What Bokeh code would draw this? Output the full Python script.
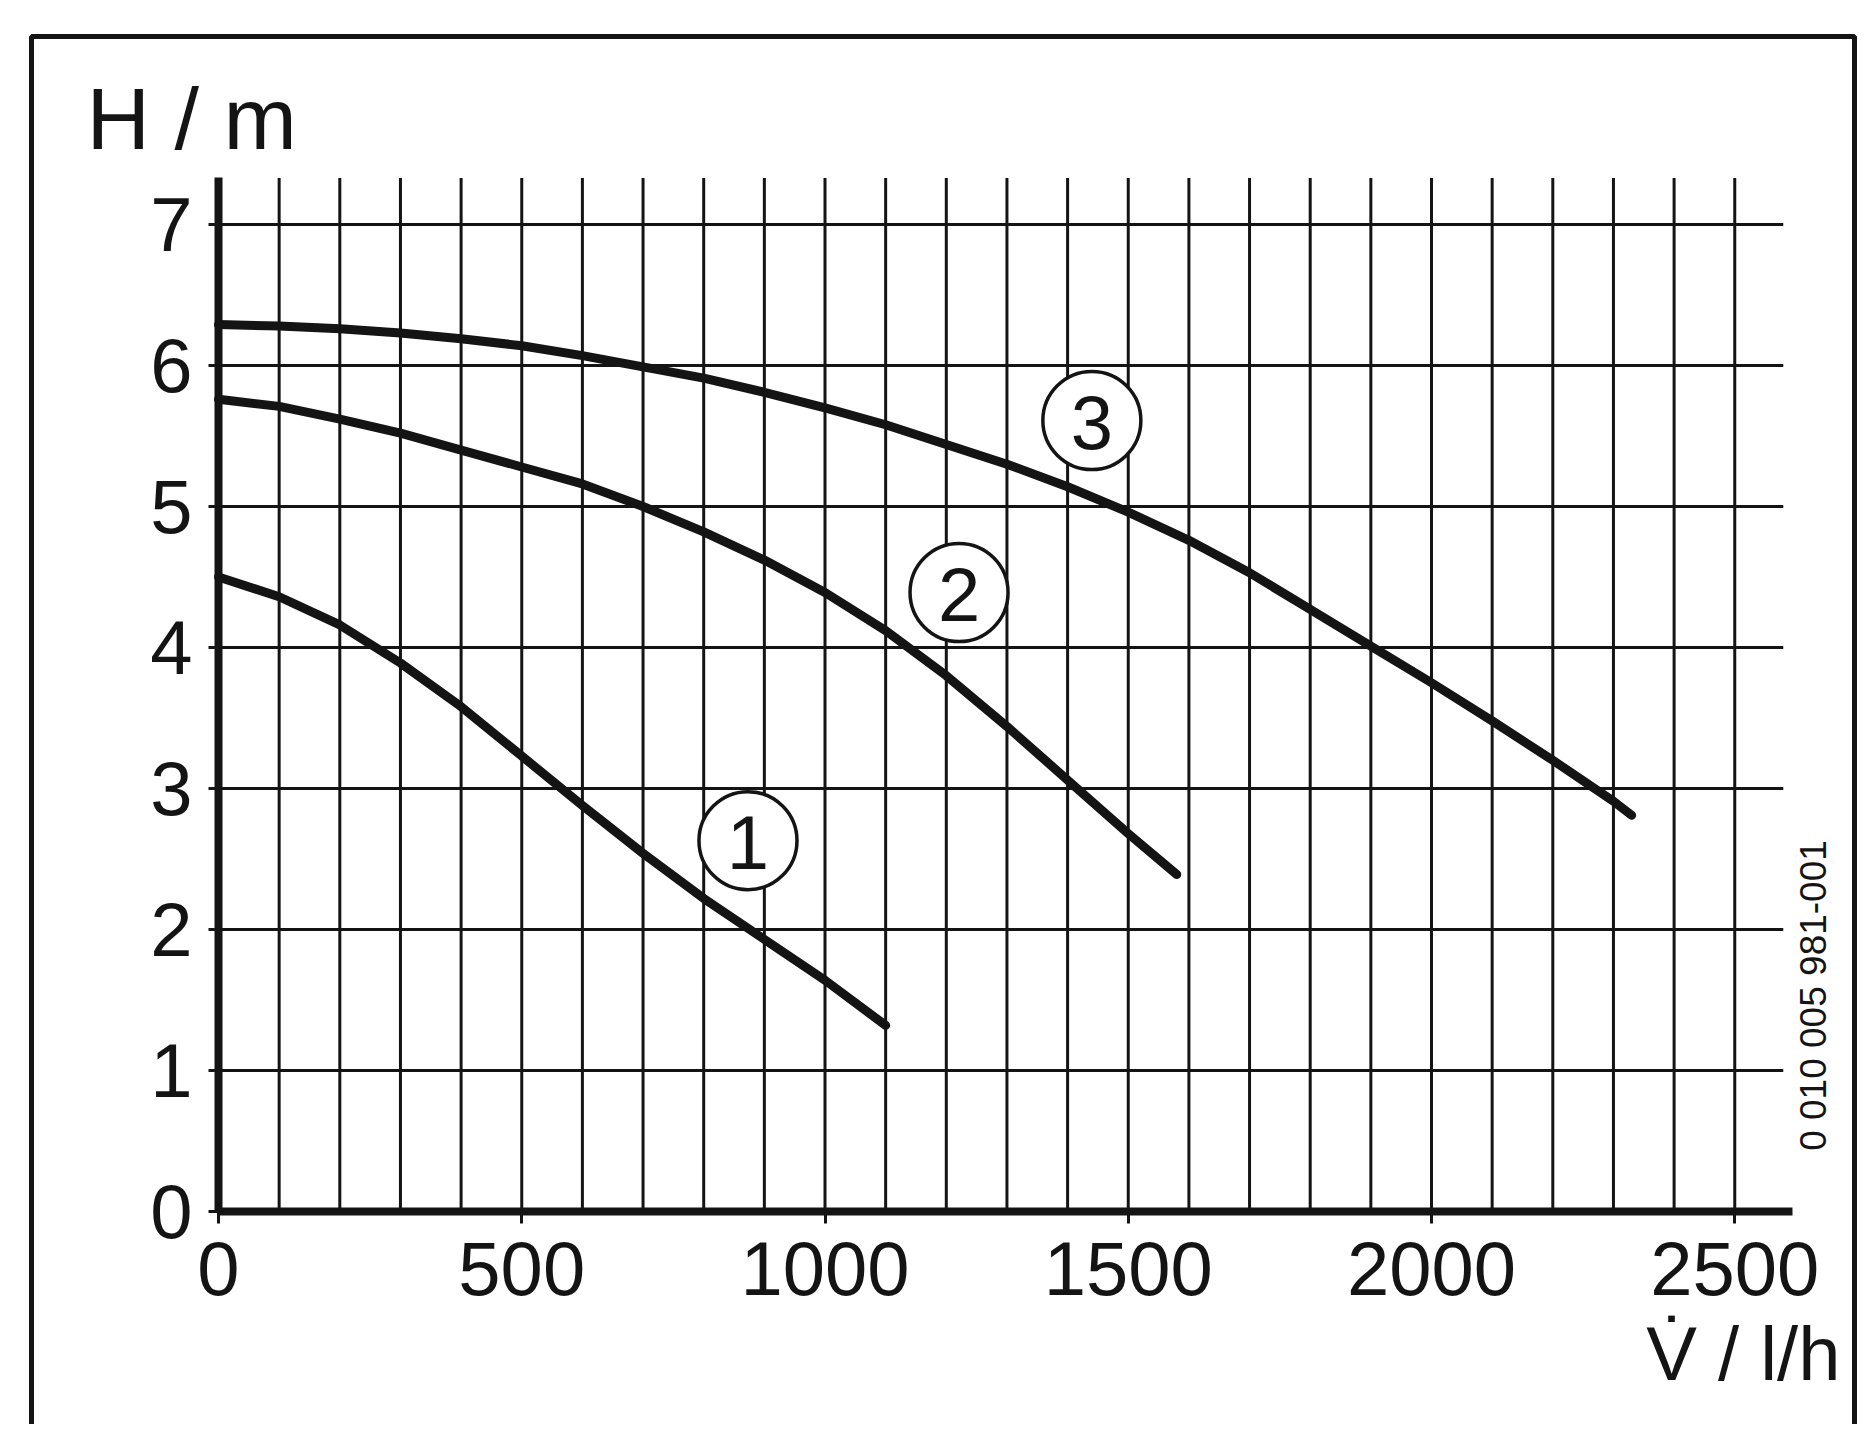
import numpy as np
from bokeh.plotting import figure
from bokeh.models import Range1d, FixedTicker, Label, BoxAnnotation
from bokeh.core.properties import value
from bokeh.embed import file_html
from bokeh.resources import INLINE

# ---------------- data ----------------
q1 = [0, 100, 200, 300, 400, 500, 600, 700, 800, 900, 1000, 1100]
h1 = [4.50, 4.36, 4.16, 3.89, 3.58, 3.23, 2.88, 2.54, 2.22, 1.93, 1.64, 1.32]

q2 = [0, 100, 200, 300, 400, 500, 600, 700, 800, 900, 1000, 1100, 1200, 1300, 1400, 1500, 1580]
h2 = [5.76, 5.71, 5.62, 5.52, 5.40, 5.28, 5.16, 5.00, 4.82, 4.62, 4.39, 4.12, 3.80, 3.44, 3.06, 2.68, 2.39]

q3 = [0, 100, 200, 300, 400, 500, 600, 700, 800, 900, 1000, 1100, 1200, 1300, 1400, 1500,
      1600, 1700, 1800, 1900, 2000, 2100, 2200, 2300, 2330]
h3 = [6.29, 6.28, 6.26, 6.23, 6.19, 6.14, 6.07, 5.99, 5.91, 5.81, 5.70, 5.58, 5.44, 5.30, 5.14, 4.96,
      4.76, 4.53, 4.27, 4.01, 3.75, 3.48, 3.20, 2.91, 2.81]

curve_ids = ["1", "2", "3"]
curve_label_q = [873, 1221, 1440]
curve_label_h = [2.63, 4.39, 5.61]

x_ticks = [0, 500, 1000, 1500, 2000, 2500]
y_ticks = [0, 1, 2, 3, 4, 5, 6, 7]
x_grid = [100, 200, 300, 400, 500, 600, 700, 800, 900, 1000, 1100, 1200, 1300,
          1400, 1500, 1600, 1700, 1800, 1900, 2000, 2100, 2200, 2300, 2400, 2500]
y_grid = [1, 2, 3, 4, 5, 6, 7]

y_label = "H / m"
x_label = "V\u0307 / l/h"
code_text = "0 010 005 981-001"

# ---------------- layout ----------------
W, H = 1857, 1424
PX_Q = 0.6065     # px per l/h
PX_H = 141.0      # px per m
OX, OY = 218, 1211  # canvas position of the origin

def qx(px):
    return (px - OX) / PX_Q

def hy(py):
    return (OY - py) / PX_H

GRID_TOP = 7.33
GRID_RIGHT = 2580
AXIS_RIGHT = 2595

FONT = "Liberation Sans"
INK = "#141414"

p = figure(width=W, height=H, output_backend="svg", toolbar_location=None,
           x_range=Range1d(qx(0), qx(W)), y_range=Range1d(hy(H), hy(0)),
           min_border=0, background_fill_color="white", border_fill_color="white")
p.outline_line_color = None
p.xgrid.visible = False
p.ygrid.visible = False

# grid lines
p.segment(x0=x_grid, y0=[0] * len(x_grid), x1=x_grid, y1=[GRID_TOP] * len(x_grid),
          line_color=INK, line_width=3)
p.segment(x0=[0] * len(y_grid), y0=y_grid, x1=[GRID_RIGHT] * len(y_grid), y1=y_grid,
          line_color=INK, line_width=3)

# curves
for qs, hs in ((q1, h1), (q2, h2), (q3, h3)):
    p.line(qs, hs, line_color=INK, line_width=9, line_cap="round", line_join="round")

# circled curve numbers
p.scatter(curve_label_q, curve_label_h, marker="circle", size=98,
          fill_color="white", line_color=INK, line_width=3.5)
p.text(curve_label_q, curve_label_h, text=curve_ids, text_font=value(FONT),
       text_font_size="76px", text_align="center", text_baseline="middle",
       text_color=INK, y_offset=2)

# axes
for ax in (p.xaxis[0], p.yaxis[0]):
    ax.fixed_location = 0
    ax.axis_line_color = INK
    ax.axis_line_width = 8
    ax.major_tick_line_color = INK
    ax.major_tick_line_width = 3
    ax.major_tick_in = 0
    ax.minor_tick_line_color = None
    ax.major_label_text_font = FONT
    ax.major_label_text_font_size = "76px"
    ax.major_label_text_color = INK

p.xaxis[0].ticker = FixedTicker(ticks=x_ticks)
p.xaxis[0].bounds = (0, AXIS_RIGHT)
p.xaxis[0].major_tick_out = 12
p.xaxis[0].major_label_standoff = 18

p.yaxis[0].ticker = FixedTicker(ticks=y_ticks)
p.yaxis[0].bounds = (0, GRID_TOP)
p.yaxis[0].major_tick_out = 10
p.yaxis[0].major_label_standoff = 16

# axis titles and document code
p.add_layout(Label(x=qx(86), y=hy(118), text=y_label, text_font=FONT,
                   text_font_size="88px", text_color=INK,
                   text_align="left", text_baseline="alphabetic"))
p.add_layout(Label(x=qx(1840), y=hy(1353), text=x_label, text_font=FONT,
                   text_font_size="76px", text_color=INK,
                   text_align="right", text_baseline="alphabetic"))
p.text([qx(1813)], [hy(995)], text=[code_text], angle=np.pi / 2,
       text_font=value(FONT), text_font_size="37px", text_color=INK,
       text_align="center", text_baseline="middle")

# outer frame of the figure sheet
p.add_layout(BoxAnnotation(left=qx(31), right=qx(1854), top=hy(36), bottom=hy(H + 60),
                           fill_alpha=0, line_color=INK, line_alpha=1.0, line_width=5))

open("out.html", "w").write(file_html(p, INLINE))
